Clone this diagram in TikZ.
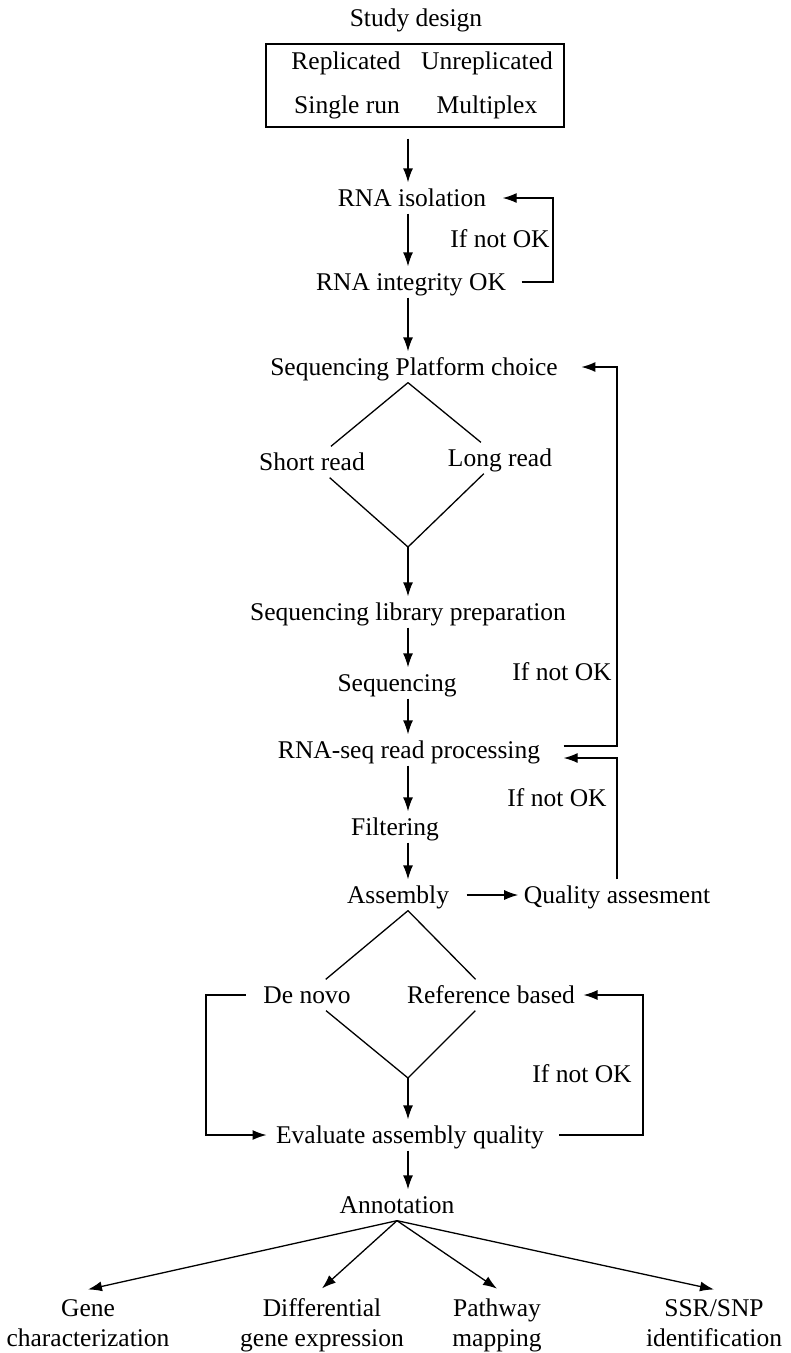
\documentclass[tikz,border=0pt]{standalone}
\usepackage{fontspec}
\setmainfont{Liberation Serif}
\usetikzlibrary{arrows.meta}

\begin{document}
\begin{tikzpicture}[x=1pt, y=-1pt, line width=1.3pt,
  txt/.style={font=\fontsize{25.5}{30}\selectfont, inner sep=0pt,
    text height=20pt, text depth=2.5pt, minimum height=30pt},
  two/.style={font=\fontsize{25.5}{30}\selectfont, align=center,
    inner xsep=0pt, inner ysep=9pt, anchor=base},
  arr/.style={-{Latex[length=14pt,width=10pt]}}]
\useasboundingbox (0,0) rectangle (791,1353);
\coordinate (trunk) at (408,0);
\coordinate (c1) at (553,0);
\coordinate (c2) at (617,0);
\coordinate (cL) at (206,0);
\coordinate (cR) at (643,0);

% study design
\node[txt] (design) at (416,18) {Study design};
\node[draw, minimum width=298pt, minimum height=83pt] (box) at (415,85.5) {};
\node[txt] (rep)    at (346,61)  {Replicated};
\node[txt] (unrep)  at (487,61)  {Unreplicated};
\node[txt] (single) at (347,105) {Single run};
\node[txt] (multi)  at (487,105) {Multiplex};

% RNA
\node[txt] (iso)   at (412,198) {RNA isolation};
\node[txt] (integ) at (411,282) {RNA integrity OK};
\node[txt] (nok1)  at (500,239) {If not OK};

% platform
\node[txt] (plat)  at (414,367) {Sequencing Platform choice};
\node[txt] (short) at (312,462) {Short read};
\node[txt] (long)  at (500,458) {Long read};
\coordinate (bot1) at (408,547);

\node[txt] (lib)  at (408,612) {Sequencing library preparation};
\node[txt] (seq)  at (397,683) {Sequencing};
\node[txt] (nok2) at (562,672) {If not OK};
\node[txt] (proc) at (409,750) {RNA-seq read processing};
\node[txt] (nok3) at (557,798) {If not OK};
\node[txt] (filt) at (395,827) {Filtering};
\node[txt] (asm)  at (398,895) {Assembly};
\node[txt] (qual) at (617,895) {Quality assesment};

% assembly
\node[txt] (denovo) at (307,995) {De novo};
\node[txt] (ref)    at (491,995) {Reference based};
\coordinate (bot2) at (408,1078);
\node[txt] (nok4)  at (582,1074) {If not OK};
\node[txt] (eval)  at (410,1135) {Evaluate assembly quality};
\node[txt] (annot) at (397,1205) {Annotation};

% outputs
\node[two] (gene) at (88,1346)  {Gene\\characterization};
\node[two] (diff) at (322,1346) {Differential\\gene expression};
\node[two] (path) at (497,1346) {Pathway\\mapping};
\node[two] (ssr)  at (714,1346) {SSR/SNP\\identification};

% main line
\draw[arr, shorten <=11pt] (box.south -| trunk) -- (iso.north -| trunk);
\foreach \a/\b in {iso/integ, integ/plat, lib/seq, seq/proc, proc/filt,
                   filt/asm, eval/annot}
  \draw[arr] (\a.south -| trunk) -- (\b.north -| trunk);

% diamonds
\draw (plat.south -| trunk) -- (short) -- (bot1) -- (long) -- (plat.south -| trunk);
\draw[arr] (bot1) -- (lib.north -| trunk);
\draw (asm.south -| trunk) -- (denovo) -- (bot2) -- (ref) -- (asm.south -| trunk);
\draw[arr] (bot2) -- (eval.north -| trunk);

% loops
\draw[arr, shorten <=15pt, shorten >=16pt] (integ.east) -- (integ.east -| c1) |- (iso.east);
\draw[arr, shorten <=23pt, shorten >=23pt] ([yshift=4pt]proc.east)
  -- ([yshift=4pt]proc.east -| c2) |- (plat.east);
\draw[arr, shorten >=23pt] (qual.north) |- ([yshift=-8pt]proc.east);
\draw[arr, shorten <=17pt, shorten >=5pt] (asm) -- (qual);
\draw[arr, shorten <=17pt, shorten >=9pt] (denovo.west) -- (denovo.west -| cL) |- (eval.west);
\draw[arr, shorten <=15pt, shorten >=8pt] (eval.east) -- (eval.east -| cR) |- (ref.east);

% annotation fan
\coordinate (fan) at (annot.south);
\foreach \t in {gene, diff, path, ssr}
  \draw[arr] (fan) -- (\t.north);
\end{tikzpicture}
\end{document}
